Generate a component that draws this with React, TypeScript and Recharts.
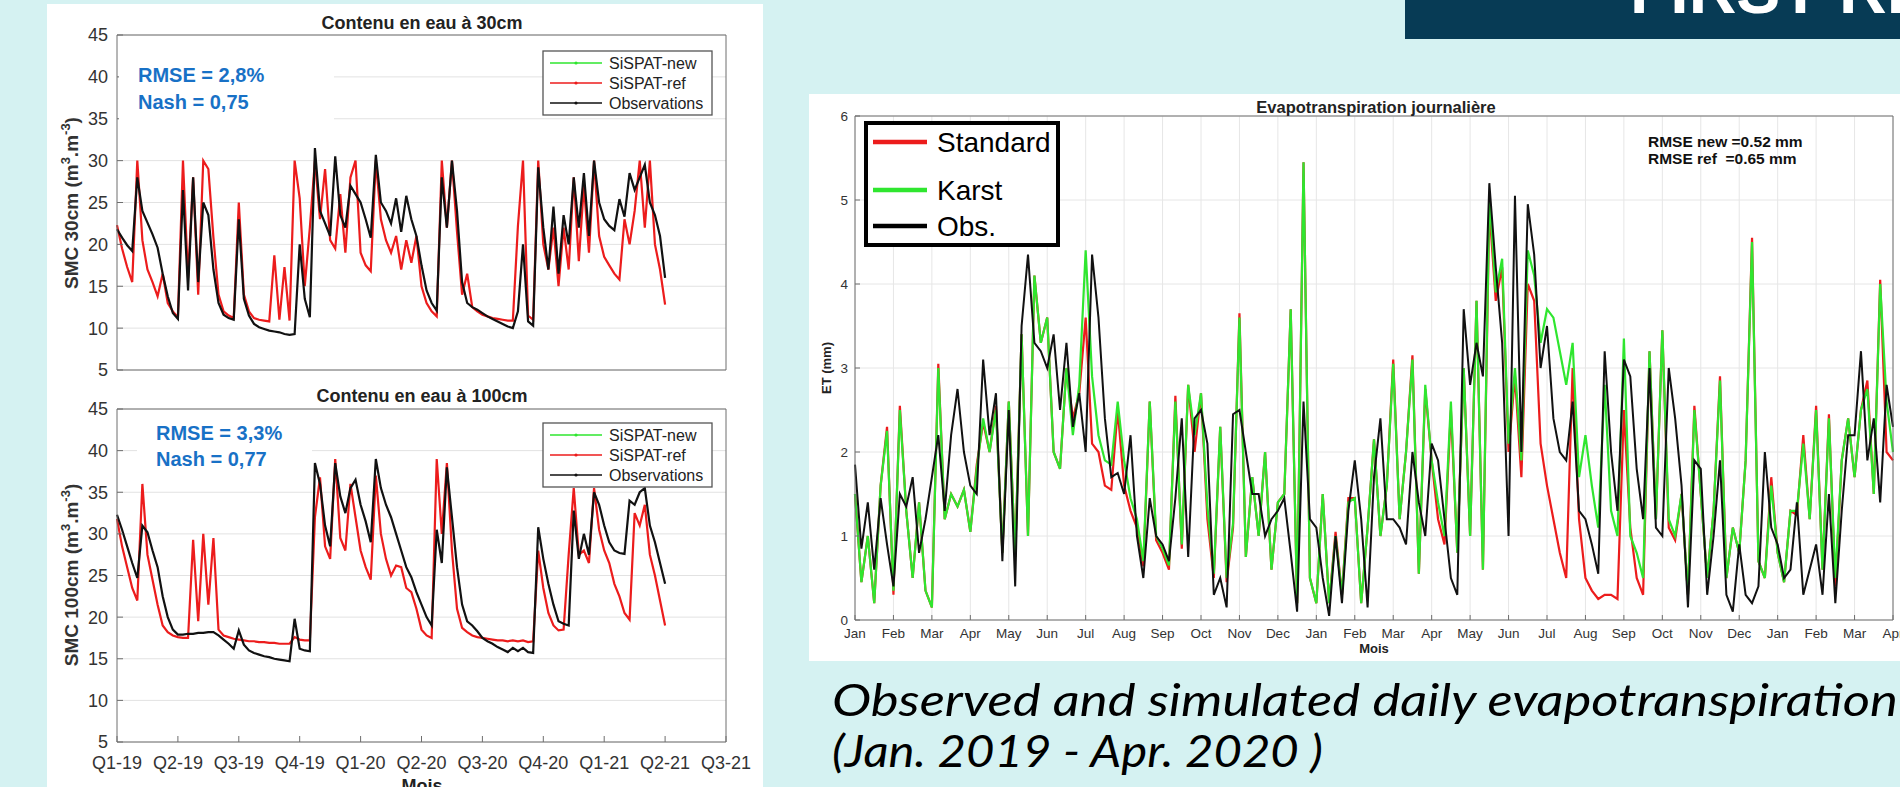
import React from 'react';
import { LineChart, Line, XAxis, YAxis, CartesianGrid } from 'recharts';

// ---- left panel: soil moisture, 12 samples per quarter (Q1-19 .. Q2-21)
const quarterLabels = ['Q1-19', 'Q2-19', 'Q3-19', 'Q4-19', 'Q1-20', 'Q2-20', 'Q3-20', 'Q4-20', 'Q1-21', 'Q2-21', 'Q3-21'];
const smcTicks = [5, 10, 15, 20, 25, 30, 35, 40, 45];

const smc30Ref = [
  22.3, 19.5, 17.3, 15.5, 30.0, 20.5, 17.0, 15.5, 13.8, 16.5, 13.0, 12.0,
  11.3, 30.0, 16.0, 28.0, 14.0, 30.0, 29.0, 20.8, 14.0, 12.0, 11.5, 11.2,
  25.0, 14.0, 12.0, 11.2, 11.0, 10.9, 10.8, 18.7, 11.0, 17.3, 10.9, 30.0,
  25.5, 15.0, 22.0, 30.0, 23.0, 29.0, 20.5, 19.5, 26.0, 19.0, 28.0, 30.0,
  19.0, 17.5, 16.8, 30.0, 23.0, 20.5, 19.0, 21.0, 17.0, 20.5, 17.8, 21.0,
  15.0, 13.0, 12.0, 11.4, 30.0, 22.0, 30.0, 21.5, 14.0, 16.5, 12.5, 12.0,
  11.6, 11.4, 11.2, 11.1, 11.0, 10.9, 10.9, 22.2, 30.0, 11.5, 11.0, 30.0,
  20.0, 17.0, 22.0, 15.0, 22.0, 17.0, 28.0, 18.0, 27.0, 19.0, 30.0, 21.0,
  18.5, 17.5, 16.5, 15.8, 23.0, 20.0, 24.0, 30.0, 22.0, 30.0, 20.0, 17.0,
  12.8,
];
const smc30Obs = [
  21.8, 20.8, 19.9, 19.2, 28.0, 24.0, 22.6, 21.2, 19.6, 16.5, 13.8, 11.8,
  11.1, 26.5, 14.5, 28.0, 15.5, 25.0, 23.5, 17.0, 13.0, 11.6, 11.2, 11.0,
  23.0, 13.5, 11.5, 10.5, 10.1, 9.9, 9.7, 9.6, 9.5, 9.3, 9.2, 9.3,
  20.0, 13.5, 11.3, 31.5, 24.0, 22.5, 21.0, 30.5, 23.5, 22.0, 27.0, 26.0,
  25.0, 23.0, 20.8, 30.7, 25.0, 24.0, 22.5, 25.5, 21.5, 25.8, 23.0, 21.0,
  17.5, 14.5, 13.0, 12.1, 28.0, 22.0, 30.0, 24.0, 15.5, 13.0, 12.5, 12.2,
  11.8, 11.4, 11.1, 10.8, 10.5, 10.2, 10.0, 12.0, 20.0, 10.8, 10.3, 29.2,
  22.0, 17.0, 24.5, 16.5, 23.5, 20.0, 28.0, 22.0, 28.5, 21.0, 30.0, 25.0,
  23.0, 22.2, 21.7, 25.4, 23.3, 28.5, 26.5, 28.0, 29.5, 25.0, 23.5, 21.0,
  16.0,
];
const smc100Ref = [
  31.8, 28.5, 26.0, 23.5, 22.0, 36.0, 27.5, 24.5, 21.5, 19.0, 18.2, 17.8,
  17.6, 17.5, 17.5, 29.3, 19.5, 30.0, 21.5, 29.5, 18.5, 17.8, 17.6, 17.4,
  17.3, 17.2, 17.1, 17.1, 17.0, 17.0, 16.9, 16.9, 16.8, 16.8, 16.8, 17.6,
  17.3, 17.2, 17.2, 32.0, 36.8, 28.5, 27.0, 39.0, 29.5, 28.0, 36.0, 32.0,
  28.0, 26.0, 24.5, 37.0, 30.0, 27.0, 25.0, 26.2, 26.0, 23.5, 23.0, 21.0,
  18.5, 17.8, 17.5, 39.0, 30.0, 38.5, 28.0, 21.0, 18.7, 18.2, 17.8, 17.6,
  17.5, 17.4, 17.3, 17.2, 17.2, 17.1, 17.2, 17.1, 17.2, 17.0, 17.1, 28.0,
  23.5, 20.5, 19.0, 18.4, 18.5, 27.5, 35.5, 27.5, 28.0, 26.5, 35.5, 30.5,
  28.0, 26.5, 24.0, 22.5, 20.5, 19.7, 32.5, 31.0, 33.5, 27.5, 25.0, 22.0,
  19.0,
];
const smc100Obs = [
  32.3, 30.5, 28.5, 26.5, 24.7, 31.0, 30.2, 28.0, 26.0, 22.5, 20.0, 18.5,
  17.9, 17.9, 18.0, 18.0, 18.1, 18.1, 18.2, 18.2, 17.8, 17.3, 16.8, 16.2,
  18.4, 16.7, 16.0, 15.7, 15.5, 15.3, 15.2, 15.0, 14.9, 14.8, 14.7, 19.8,
  16.2, 16.0, 15.9, 38.5, 36.0, 31.0, 28.5, 38.5, 34.5, 32.5, 35.5, 36.5,
  33.5, 31.5, 29.0, 39.0, 35.5, 33.5, 32.0, 30.0, 28.0, 26.0, 24.8, 23.0,
  21.5, 20.0, 19.0, 30.5, 26.5, 38.0, 32.0, 26.0, 21.5, 19.5, 19.0, 18.3,
  17.5, 17.1, 16.8, 16.4, 16.1, 15.8, 16.3, 15.9, 16.3, 15.8, 15.7, 30.8,
  27.0, 24.0, 21.5, 19.5, 19.2, 19.0, 32.8, 27.0, 30.0, 27.5, 35.0, 33.5,
  31.0, 29.0, 28.0, 27.7, 27.6, 34.0, 33.5, 35.0, 35.5, 31.0, 29.0, 26.5,
  24.0,
];

// ---- right panel: daily ET, 6 samples per month (Jan 2019 .. Apr 2021)
const monthLabels = [
  'Jan', 'Feb', 'Mar', 'Apr', 'May', 'Jun', 'Jul', 'Aug', 'Sep', 'Oct', 'Nov', 'Dec',
  'Jan', 'Feb', 'Mar', 'Apr', 'May', 'Jun', 'Jul', 'Aug', 'Sep', 'Oct', 'Nov', 'Dec',
  'Jan', 'Feb', 'Mar', 'Apr',
];
const etTicks = [0, 1, 2, 3, 4, 5, 6];

const etKarst = [
  1.5, 0.45, 1.0, 0.2, 1.6, 2.25,
  0.35, 2.5, 1.3, 0.5, 1.4, 0.35,
  0.15, 3.0, 1.2, 1.5, 1.35, 1.55,
  1.05, 1.8, 2.4, 2.0, 2.5, 0.8,
  2.6, 0.75, 3.4, 1.0, 4.1, 3.3,
  3.6, 2.0, 1.8, 3.0, 2.2, 2.8,
  4.4, 2.9, 2.2, 1.9, 1.85, 2.6,
  1.9, 1.45, 1.2, 0.7, 2.6, 1.0,
  0.85, 0.65, 2.6, 0.9, 2.8, 2.2,
  2.7, 1.35, 0.55, 2.3, 0.5, 1.15,
  3.6, 0.75, 1.7, 1.0, 2.0, 0.6,
  1.4, 1.5, 3.7, 0.2, 5.45, 0.5,
  0.2, 1.5, 0.2, 1.0, 0.3, 1.4,
  1.45, 0.2, 1.1, 2.15, 1.0, 1.6,
  3.05, 1.2, 2.0, 3.1, 0.55, 2.8,
  1.9, 1.4, 1.0, 2.6, 0.8, 3.0,
  1.0, 3.8, 0.6, 5.05, 3.9, 4.3,
  2.1, 3.0, 1.9, 4.4, 4.1, 3.3,
  3.7, 3.6, 3.2, 2.8, 3.3, 1.7,
  2.2, 1.6, 1.1, 2.8, 1.3, 1.0,
  3.35, 1.0, 0.8, 0.5, 3.2, 1.2,
  3.45, 1.2, 1.0, 1.5, 0.3, 2.5,
  1.5, 0.5, 1.3, 2.85, 0.5, 1.1,
  0.8, 1.9, 4.5, 0.7, 0.5, 1.6,
  0.8, 0.45, 1.3, 1.3, 2.1, 1.2,
  2.5, 0.6, 2.4, 0.5, 1.9, 2.4,
  1.7, 2.5, 2.75, 1.5, 4.0, 2.6,
  2.0,
];
const etStandard = [
  1.5, 0.45, 1.0, 0.2, 1.6, 2.3,
  0.3, 2.55, 1.3, 0.5, 1.4, 0.35,
  0.15, 3.05, 1.2, 1.5, 1.35, 1.55,
  1.05, 1.85, 2.35, 2.0, 2.55, 0.8,
  2.6, 0.75, 3.4, 1.0, 4.1, 3.3,
  3.6, 2.0, 1.8, 3.0, 2.4, 2.7,
  3.6, 2.1, 2.0, 1.6, 1.55, 2.5,
  1.6, 1.3, 1.1, 0.64, 2.6, 0.95,
  0.8, 0.6, 2.67, 0.85, 2.8, 2.0,
  2.7, 1.2, 0.5, 2.3, 0.45, 1.1,
  3.65, 0.75, 1.7, 1.0, 2.0, 0.6,
  1.4, 1.5, 3.7, 0.2, 5.45, 0.5,
  0.2, 1.5, 0.2, 1.05, 0.3, 1.45,
  1.45, 0.2, 1.1, 2.15, 1.0, 1.6,
  3.1, 1.2, 2.0, 3.15, 0.55, 2.75,
  1.9, 1.2, 0.9, 2.5, 0.8, 3.0,
  1.0, 3.8, 0.6, 4.9, 3.8, 4.2,
  2.0, 2.9, 1.7, 4.0, 3.8, 2.1,
  1.6, 1.2, 0.8, 0.5, 3.0, 1.2,
  0.5, 0.35, 0.25, 0.3, 0.3, 0.25,
  2.5, 1.1, 0.5, 0.3, 3.2, 1.2,
  3.45, 1.1, 0.95, 1.5, 0.3, 2.55,
  1.5, 0.5, 1.3, 2.9, 0.5, 1.1,
  0.8, 1.9, 4.55, 0.7, 0.5, 1.7,
  0.8, 0.45, 1.3, 1.25, 2.2, 1.2,
  2.55, 0.6, 2.45, 0.4, 1.9, 2.4,
  1.7, 2.5, 2.85, 1.5, 4.05, 2.0,
  1.9,
];
const etObs = [
  1.85, 0.85, 1.4, 0.6, 1.45, 0.9,
  0.4, 1.5, 1.35, 1.7, 0.8, 1.2,
  1.7, 2.2, 1.3, 2.2, 2.75, 2.0,
  1.6, 1.5, 3.1, 2.2, 2.7, 0.7,
  2.5, 0.4, 3.5, 4.35, 3.3, 3.2,
  3.0, 3.4, 2.5, 3.3, 2.3, 2.7,
  2.0, 4.35, 3.6, 2.4, 1.7, 1.75,
  1.5, 2.2, 1.0, 0.5, 1.45, 1.0,
  0.9, 0.7, 1.45, 2.4, 0.75, 2.4,
  2.5, 2.1, 0.3, 0.5, 0.15, 2.45,
  2.5, 2.0, 1.5, 1.5, 1.0, 1.2,
  1.3, 1.45, 0.8, 0.1, 2.6, 1.2,
  1.1, 0.5, 0.05, 1.0, 0.2, 1.3,
  1.9, 1.2, 0.15, 1.7, 2.4, 1.2,
  1.2, 1.1, 0.9, 2.0, 1.4, 1.0,
  2.1, 1.9, 1.2, 0.5, 0.3, 3.7,
  2.8, 3.3, 2.9, 5.2, 4.2, 3.3,
  1.0, 5.05, 2.0, 4.95, 4.35, 3.0,
  3.5, 2.4, 2.0, 1.9, 2.6, 1.3,
  1.2, 0.9, 0.55, 3.2, 2.0, 1.3,
  3.1, 2.9, 1.8, 1.2, 3.0, 1.1,
  1.0, 3.0, 2.4, 1.6, 0.15, 1.9,
  1.8, 0.3, 1.0, 1.9, 0.3, 0.1,
  0.9, 0.3, 0.2, 0.4, 2.0, 1.1,
  0.9, 0.5, 0.6, 1.4, 0.3, 0.6,
  0.9, 0.3, 1.5, 0.2, 1.3, 2.2,
  2.2, 3.2, 1.9, 2.4, 1.4, 2.8,
  2.3,
];

const FONT = 'Arial, "Liberation Sans", sans-serif';
const AXIS = '#6e6e6e';
const RED = '#ec1c1c';
const GREEN = '#2fe62f';
const BLUE = '#1871c6';

const quarterTicks = quarterLabels.map((_, i) => i * 12);
const monthTicks = monthLabels.map((_, i) => i * 6);

function SmcChart({ refVals, obsVals, top, height, marginTop, marginBottom, xHeight, showX }) {
  const data = refVals.map((v, i) => ({ t: i, ref: v, obs: obsVals[i] }));
  return (
    <div style={{ position: 'absolute', left: 47, top, width: 716, height }}>
      <LineChart width={716} height={height} data={data}
        margin={{ top: marginTop, right: 36, bottom: marginBottom, left: 0 }}>
        <CartesianGrid xAxisId="b" yAxisId="l" vertical={false} stroke="#e2e2e2" />
        <XAxis xAxisId="b" dataKey="t" type="number" domain={[0, 120]} ticks={quarterTicks} interval={0}
          height={xHeight} tickSize={-6} tickMargin={20} stroke={AXIS}
          tick={showX ? { fill: '#333', fontSize: 18, fontFamily: FONT } : false}
          tickFormatter={(v) => quarterLabels[v / 12]} />
        <XAxis xAxisId="t" orientation="top" dataKey="t" type="number" domain={[0, 120]} ticks={quarterTicks}
          interval={0} height={1} tickSize={-6} tick={false} stroke={AXIS} />
        <YAxis yAxisId="l" type="number" domain={[5, 45]} ticks={smcTicks} interval={0} width={70}
          tickSize={-6} tickMargin={15} stroke={AXIS} tick={{ fill: '#333', fontSize: 18, fontFamily: FONT }} />
        <YAxis yAxisId="r" orientation="right" type="number" domain={[5, 45]} ticks={smcTicks} interval={0}
          width={1} tickSize={-6} tick={false} stroke={AXIS} />
        <Line xAxisId="b" yAxisId="l" type="linear" dataKey="ref" stroke={RED} strokeWidth={2.2}
          dot={false} isAnimationActive={false} />
        <Line xAxisId="b" yAxisId="l" type="linear" dataKey="obs" stroke="#111" strokeWidth={2.2}
          dot={false} isAnimationActive={false} />
      </LineChart>
    </div>
  );
}

function SmcLegend({ top }) {
  const rows = [
    { label: 'SiSPAT-new', color: GREEN },
    { label: 'SiSPAT-ref', color: RED },
    { label: 'Observations', color: '#111' },
  ];
  return (
    <g>
      <rect x={543} y={top} width={169} height={64} fill="#fff" stroke="#555" strokeWidth={1.3} />
      {rows.map((r, i) => (
        <g key={r.label}>
          <line x1={550} x2={602} y1={top + 12 + i * 20} y2={top + 12 + i * 20} stroke={r.color} strokeWidth={1.6} />
          <circle cx={576} cy={top + 12 + i * 20} r={1.6} fill={r.color} />
          <text x={609} y={top + 17.5 + i * 20} fontSize={16} fill="#222" fontFamily={FONT}>{r.label}</text>
        </g>
      ))}
    </g>
  );
}

function YTitle({ x, y, depth }) {
  return (
    <text transform={`translate(${x},${y}) rotate(-90)`} y={7} textAnchor="middle" fontSize={19}
      fontWeight="bold" fill="#333" fontFamily={FONT}>
      {`SMC ${depth} (m`}
      <tspan dy={-8} fontSize={13}>3</tspan>
      <tspan dy={8}>.m</tspan>
      <tspan dy={-8} fontSize={13}>-3</tspan>
      <tspan dy={8}>)</tspan>
    </text>
  );
}

export default function App() {
  const etData = etKarst.map((v, i) => ({ d: i, std: etStandard[i], karst: v, obs: etObs[i] }));
  const etLegend = [
    { label: 'Standard', color: RED, y: 142 },
    { label: 'Karst', color: GREEN, y: 190 },
    { label: 'Obs.', color: '#000', y: 226 },
  ];

  return (
    <div style={{ position: 'absolute', left: 0, top: 0, width: 1900, height: 787, overflow: 'hidden',
      background: '#d5f2f2', fontFamily: FONT }}>
      {/* banner */}
      <div style={{ position: 'absolute', left: 1405, top: 0, width: 495, height: 39, background: '#073b55' }} />

      {/* left white panel */}
      <div style={{ position: 'absolute', left: 47, top: 4, width: 716, height: 783, background: '#fff' }} />
      <SmcChart refVals={smc30Ref} obsVals={smc30Obs} top={0} height={390} marginTop={34} marginBottom={0}
        xHeight={20} showX={false} />
      <SmcChart refVals={smc100Ref} obsVals={smc100Obs} top={390} height={397} marginTop={18} marginBottom={15}
        xHeight={30} showX={true} />
      <div style={{ position: 'absolute', left: 119, top: 56, width: 215, height: 68, background: '#fff' }} />
      <div style={{ position: 'absolute', left: 137, top: 421, width: 175, height: 50, background: '#fff' }} />

      {/* right panel */}
      <div style={{ position: 'absolute', left: 809, top: 94, width: 1091, height: 567, background: '#fff' }}>
        <LineChart width={1091} height={567} data={etData} margin={{ top: 21, right: 6, bottom: 15, left: 6 }}>
          <CartesianGrid xAxisId="b" yAxisId="l" stroke="#e6e6e6" />
          <XAxis xAxisId="b" dataKey="d" type="number" domain={[0, 162]} ticks={monthTicks} interval={0}
            height={26} tickSize={-5} tickMargin={13} stroke={AXIS}
            tick={{ fill: '#333', fontSize: 13.5, fontFamily: FONT }} tickFormatter={(v) => monthLabels[v / 6]} />
          <XAxis xAxisId="t" orientation="top" dataKey="d" type="number" domain={[0, 162]} ticks={monthTicks}
            interval={0} height={1} tickSize={-5} tick={false} stroke={AXIS} />
          <YAxis yAxisId="l" type="number" domain={[0, 6]} ticks={etTicks} interval={0} width={40}
            tickSize={-5} tickMargin={12} stroke={AXIS} tick={{ fill: '#333', fontSize: 13.5, fontFamily: FONT }} />
          <YAxis yAxisId="r" orientation="right" type="number" domain={[0, 6]} ticks={etTicks} interval={0}
            width={1} tickSize={-5} tick={false} stroke={AXIS} />
          <Line xAxisId="b" yAxisId="l" type="linear" dataKey="std" stroke={RED} strokeWidth={2.2}
            dot={false} isAnimationActive={false} />
          <Line xAxisId="b" yAxisId="l" type="linear" dataKey="karst" stroke={GREEN} strokeWidth={2.2}
            dot={false} isAnimationActive={false} />
          <Line xAxisId="b" yAxisId="l" type="linear" dataKey="obs" stroke="#111" strokeWidth={2}
            dot={false} isAnimationActive={false} />
        </LineChart>
      </div>

      {/* texts, legends */}
      <svg width={1900} height={787} style={{ position: 'absolute', left: 0, top: 0, pointerEvents: 'none' }}>
        <text x={1630} y={13} fontSize={66} fontWeight="bold" fill="#fff" fontFamily={FONT}>FIRST RESULTS</text>

        <text x={422} y={29} textAnchor="middle" fontSize={18} fontWeight="bold" fill="#222" fontFamily={FONT}>
          Contenu en eau à 30cm
        </text>
        <text x={422} y={402} textAnchor="middle" fontSize={18} fontWeight="bold" fill="#222" fontFamily={FONT}>
          Contenu en eau à 100cm
        </text>
        <text x={422} y={792} textAnchor="middle" fontSize={18} fontWeight="bold" fill="#222" fontFamily={FONT}>
          Mois
        </text>
        <YTitle x={71} y={203} depth="30cm" />
        <YTitle x={71} y={575} depth="100cm" />

        <text x={138} y={82} fontSize={20} fontWeight="bold" fill={BLUE} fontFamily={FONT}>RMSE = 2,8%</text>
        <text x={138} y={109} fontSize={20} fontWeight="bold" fill={BLUE} fontFamily={FONT}>Nash = 0,75</text>
        <text x={156} y={440} fontSize={20} fontWeight="bold" fill={BLUE} fontFamily={FONT}>RMSE = 3,3%</text>
        <text x={156} y={466} fontSize={20} fontWeight="bold" fill={BLUE} fontFamily={FONT}>Nash = 0,77</text>
        <SmcLegend top={51} />
        <SmcLegend top={423} />

        <text x={1376} y={113} textAnchor="middle" fontSize={16.5} fontWeight="bold" fill="#222" fontFamily={FONT}>
          Evapotranspiration journalière
        </text>
        <text x={1374} y={653} textAnchor="middle" fontSize={13} fontWeight="bold" fill="#222" fontFamily={FONT}>
          Mois
        </text>
        <text transform="translate(826,368) rotate(-90)" y={5} textAnchor="middle" fontSize={13} fontWeight="bold"
          fill="#222" fontFamily={FONT}>ET (mm)</text>
        <text x={1648} y={147} fontSize={15.5} fontWeight="bold" fill="#111" fontFamily={FONT}
          style={{ whiteSpace: 'pre' }}>RMSE new =0.52 mm</text>
        <text x={1648} y={164} fontSize={15.5} fontWeight="bold" fill="#111" fontFamily={FONT}
          style={{ whiteSpace: 'pre' }}>RMSE ref  =0.65 mm</text>

        <rect x={866} y={123} width={192} height={122} fill="#fff" stroke="#000" strokeWidth={4} />
        {etLegend.map((r) => (
          <g key={r.label}>
            <line x1={873} x2={927} y1={r.y} y2={r.y} stroke={r.color} strokeWidth={4.5} />
            <text x={937} y={r.y + 10} fontSize={28} fill="#000" fontFamily={FONT}>{r.label}</text>
          </g>
        ))}

        <text x={832} y={716} fontSize={45} fontStyle="italic" fontWeight={400} fill="#000"
          fontFamily="Lato, 'Open Sans', sans-serif"
          textLength={1066} lengthAdjust="spacingAndGlyphs">Observed and simulated daily evapotranspiration</text>
        <text x={832} y={767} fontSize={45} fontStyle="italic" fontWeight={400} fill="#000"
          fontFamily="Lato, 'Open Sans', sans-serif"
          textLength={491} lengthAdjust="spacingAndGlyphs">(Jan. 2019 - Apr. 2020 )</text>
      </svg>
    </div>
  );
}
